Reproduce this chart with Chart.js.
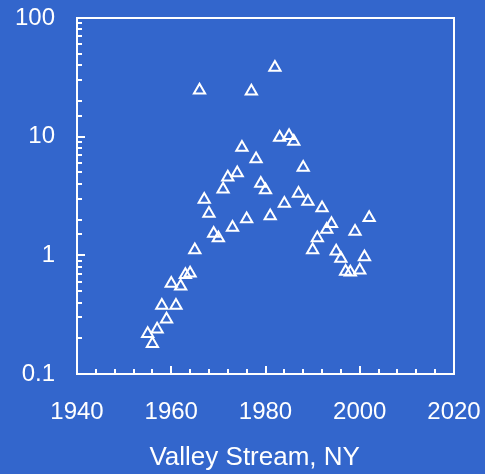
<!DOCTYPE html>
<html>
<head>
<meta charset="utf-8">
<script src="https://cdn.jsdelivr.net/npm/chart.js@4.4.1/dist/chart.umd.min.js"></script>
<style>
  html, body { margin: 0; padding: 0; background: #3366cc; }
  #wrap { width: 485px; height: 474px; }
</style>
</head>
<body>
<div id="wrap"><canvas id="chart" width="485" height="474"></canvas></div>
<script>
// Annual values, Valley Stream, NY
const years = [
  1955, 1956, 1957, 1958, 1959, 1960, 1961, 1962, 1963, 1964,
  1965, 1966, 1967, 1968, 1969, 1970, 1971, 1972, 1973, 1974,
  1975, 1976, 1977, 1978, 1979, 1980, 1981, 1982, 1983, 1984,
  1985, 1986, 1987, 1988, 1989, 1990, 1991, 1992, 1993, 1994,
  1995, 1996, 1997, 1998, 1999, 2000, 2001, 2002
];
const values = [
  0.218, 0.18, 0.238, 0.377, 0.29, 0.58, 0.377, 0.55, 0.686, 0.705,
  1.11, 24.6, 2.96, 2.25, 1.53, 1.40, 3.6, 4.56, 1.72, 4.93,
  8.1, 2.02, 24.1, 6.47, 4.04, 3.55, 2.15, 38.3, 9.85, 2.73,
  10.2, 9.1, 3.32, 5.5, 2.84, 1.11, 1.4, 2.51, 1.65, 1.85,
  1.08, 0.94, 0.73, 0.72, 1.59, 0.75, 0.97, 2.07
];
// trailing spaces nudge the centred title a little left, as in the original
const xTitle = 'Valley Stream, NY   ';

const WHITE = '#ffffff';
const FONT = "'Liberation Sans', Arial, Helvetica, sans-serif";

// Frame plus inward tick marks, taken from the scales' own ticks
const frameTicks = {
  id: 'frameTicks',
  beforeDatasetsDraw(chart) {
    const { ctx, chartArea: a, scales: { x, y } } = chart;
    ctx.save();
    ctx.strokeStyle = WHITE;
    ctx.lineWidth = 2;
    ctx.strokeRect(a.left, a.top, a.right - a.left, a.bottom - a.top);
    ctx.beginPath();
    x.ticks.forEach(t => {
      const px = Math.round(x.getPixelForValue(t.value));
      const len = t.value % 20 === 0 ? 8 : 5;
      ctx.moveTo(px, a.bottom);
      ctx.lineTo(px, a.bottom - len);
    });
    y.ticks.forEach(t => {
      const py = Math.round(y.getPixelForValue(t.value));
      const lg = Math.log10(t.value);
      const len = Math.abs(lg - Math.round(lg)) < 1e-6 ? 8 : 5;
      ctx.moveTo(a.left, py);
      ctx.lineTo(a.left + len, py);
    });
    ctx.stroke();
    ctx.restore();
  }
};

new Chart(document.getElementById('chart'), {
  type: 'scatter',
  data: {
    datasets: [{
      data: years.map((yr, i) => ({ x: yr, y: values[i] })),
      pointStyle: 'triangle',
      pointRadius: 6.5,
      pointHoverRadius: 6.5,
      borderWidth: 2,
      borderColor: WHITE,
      backgroundColor: 'rgba(0,0,0,0)'
    }]
  },
  options: {
    responsive: false,
    animation: false,
    layout: { padding: { top: 18, right: 31, bottom: 0, left: 0 } },
    plugins: {
      legend: { display: false },
      tooltip: { enabled: false }
    },
    scales: {
      x: {
        type: 'linear',
        min: 1940,
        max: 2020,
        grid: { display: false, drawTicks: false },
        border: { display: false },
        afterFit: (s) => { s.height = 100; s.paddingLeft = 0; s.paddingRight = 0; },
        ticks: {
          stepSize: 4,
          autoSkip: false,
          maxRotation: 0,
          minRotation: 0,
          padding: 24,
          color: WHITE,
          font: { family: FONT, size: 24 },
          callback: (v) => (v % 20 === 0 ? String(v) : '')
        },
        title: {
          display: true,
          text: xTitle,
          color: WHITE,
          font: { family: FONT, size: 26 },
          padding: { top: 0, bottom: 1 }
        }
      },
      y: {
        type: 'logarithmic',
        min: 0.1,
        max: 100,
        grid: { display: false, drawTicks: false },
        border: { display: false },
        afterFit: (s) => { s.width = 77; s.paddingTop = 0; s.paddingBottom = 0; },
        ticks: {
          autoSkip: false,
          padding: 22,
          color: WHITE,
          font: { family: FONT, size: 24 },
          callback: (v) => {
            const lg = Math.log10(v);
            return Math.abs(lg - Math.round(lg)) < 1e-6 ? String(Math.pow(10, Math.round(lg))) : '';
          }
        }
      }
    }
  },
  plugins: [frameTicks]
});
</script>
</body>
</html>
